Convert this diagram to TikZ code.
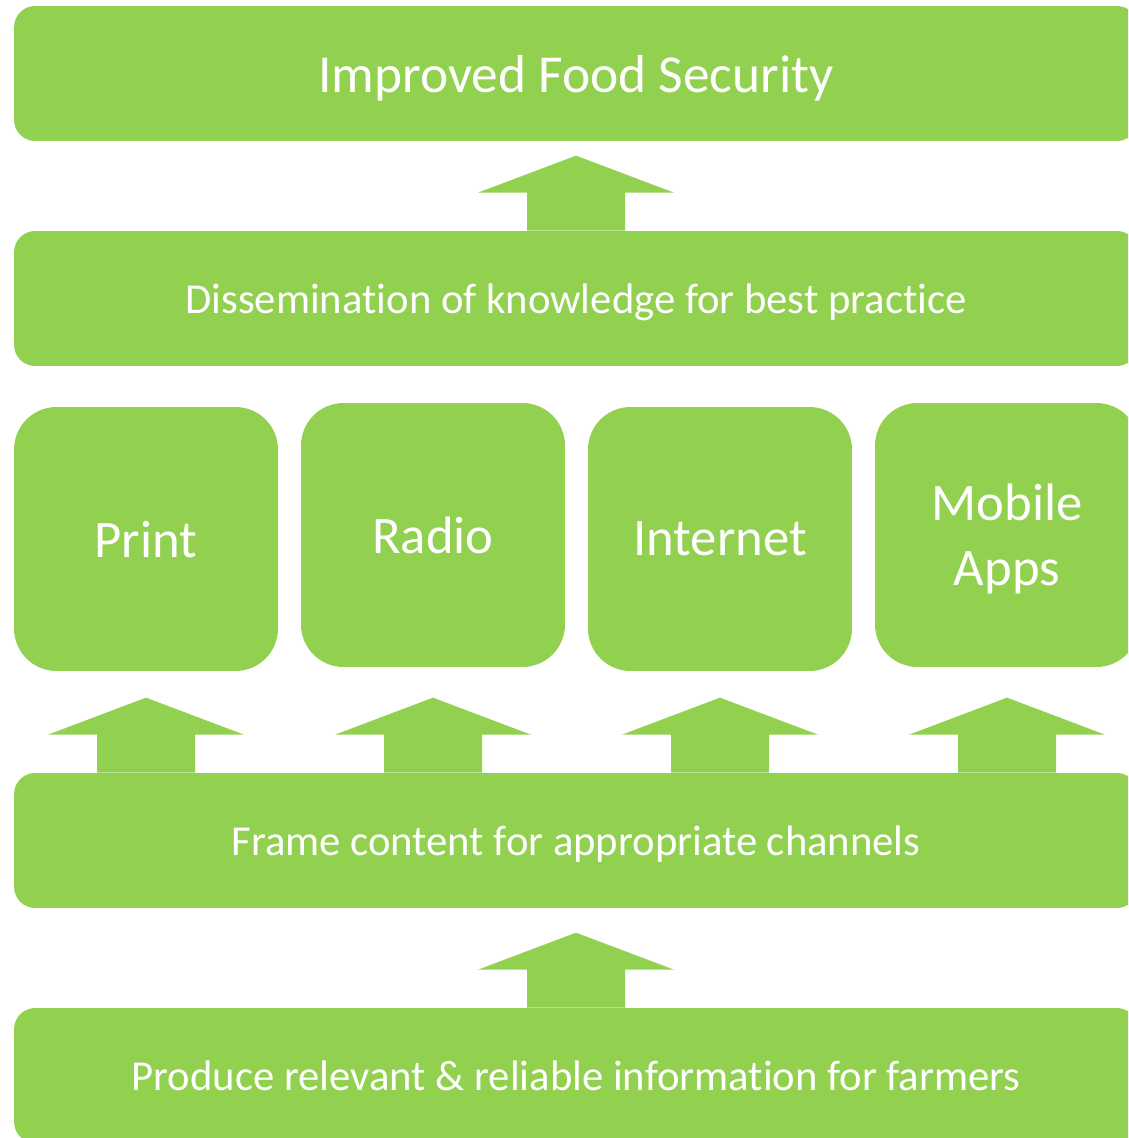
\documentclass[tikz,border=0pt]{standalone}
\usepackage{fontspec}
\setmainfont{Carlito}[Ligatures=NoCommon]
\usepackage{tikz}
\usetikzlibrary{arrows}

\definecolor{leaf}{HTML}{92D050}

\begin{document}
\begin{tikzpicture}
	[x=0.02cm,y=-0.02cm,
	 bar/.style={fill=leaf,text=white,rounded corners=0.42cm,minimum width=22.48cm,minimum height=2.7cm,inner sep=0pt,text depth=0pt},
	 channel/.style={fill=leaf,text=white,rounded corners=0.85cm,minimum width=5.28cm,minimum height=5.28cm,inner sep=0pt,align=center,text depth=0pt,font=\fontsize{30}{36.8}\selectfont},
	 bartext/.style={font=\fontsize{24.3}{29}\selectfont}]
\useasboundingbox (0,0) rectangle (1128,1138);
\clip (0,0) rectangle (1128,1138);
% bars, top to bottom
\path (576,73.5) node[bar,font=\fontsize{30.4}{36}\selectfont] (food) {Improved Food Security}
(576,298.5) node[bar,bartext] (dissem) {Dissemination of knowledge for best practice}
(576,840.5) node[bar,bartext] (frame) {Frame content for appropriate channels}
(576,1075.5) node[bar,bartext] (produce) {Produce relevant \& reliable information for farmers};
% channels
\path (146,539) node[channel] (print) {Print}
(433,535) node[channel] (radio) {Radio}
(720,539) node[channel] (internet) {Internet}
(1007,535) node[channel] (mobile) {Mobile\\Apps};
% block arrows
\foreach \a in {dissem.north,produce.north}
\fill[leaf] (\a) ++(-49,0) -- ++(0,-38) -- ++(-49,0) -- ++(98,-37) -- ++(98,37) -- ++(-49,0) -- ++(0,38) -- cycle;
\foreach \c in {print,radio,internet,mobile}
\fill[leaf] (frame.north -| \c) ++(-49,0) -- ++(0,-38) -- ++(-49,0) -- ++(98,-37) -- ++(98,37) -- ++(-49,0) -- ++(0,38) -- cycle;
\end{tikzpicture}
\end{document}
